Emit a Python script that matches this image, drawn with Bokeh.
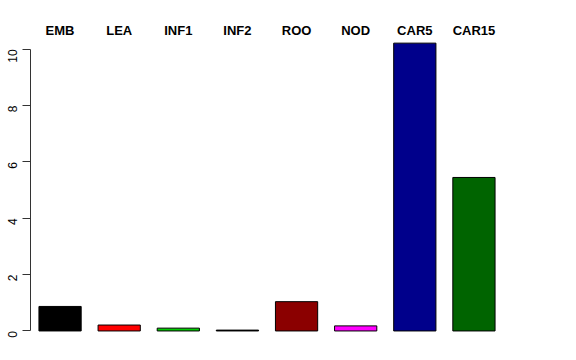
import math
from bokeh.plotting import figure
from bokeh.models import Range1d, FactorRange, ColumnDataSource, CategoricalAxis, FixedTicker
from bokeh.embed import file_html
from bokeh.resources import INLINE

categories = ["EMB", "LEA", "INF1", "INF2", "ROO", "NOD", "CAR5", "CAR15"]
values = [0.87, 0.21, 0.10, 0.03, 1.04, 0.18, 10.22, 5.45]
colors = ["#000000", "#FF0000", "#00CD00", "#000000", "#8B0000", "#FF00FF", "#00008B", "#006400"]
y_ticks = [0, 2, 4, 6, 8, 10]

source = ColumnDataSource(dict(cat=categories, val=values, col=colors))

p = figure(width=576, height=360, output_backend="svg", toolbar_location=None,
           x_range=FactorRange(factors=categories, range_padding=0),
           y_range=Range1d(-0.41, 10.42),
           x_axis_location=None,
           min_border_left=29, min_border_right=73, min_border_top=37, min_border_bottom=18)

p.vbar(x="cat", top="val", bottom=0, width=1 / 1.4, source=source,
       fill_color="col", line_color="black", line_width=1)

top_axis = CategoricalAxis()
top_axis.axis_line_color = None
top_axis.major_tick_line_color = None
top_axis.minor_tick_line_color = None
top_axis.major_tick_out = 0
top_axis.major_tick_in = 0
top_axis.major_label_text_font = "Liberation Sans"
top_axis.major_label_text_font_style = "bold"
top_axis.major_label_text_font_size = "13px"
top_axis.major_label_text_color = "black"
top_axis.major_label_standoff = 0
p.add_layout(top_axis, "above")

yaxis = p.yaxis[0]
yaxis.ticker = FixedTicker(ticks=y_ticks)
yaxis.bounds = (0, 10)
yaxis.major_label_orientation = math.pi / 2
yaxis.major_label_text_font = "Liberation Sans"
yaxis.major_label_text_font_size = "12px"
yaxis.major_label_text_color = "black"
yaxis.major_label_standoff = 10
yaxis.major_tick_out = 8
yaxis.major_tick_in = 0
yaxis.minor_tick_line_color = None
yaxis.axis_line_color = "#333333"
yaxis.major_tick_line_color = "#333333"

p.xgrid.visible = False
p.ygrid.visible = False
p.outline_line_color = None
p.background_fill_color = "white"
p.border_fill_color = "white"

open("out.html", "w").write(file_html(p, INLINE))
